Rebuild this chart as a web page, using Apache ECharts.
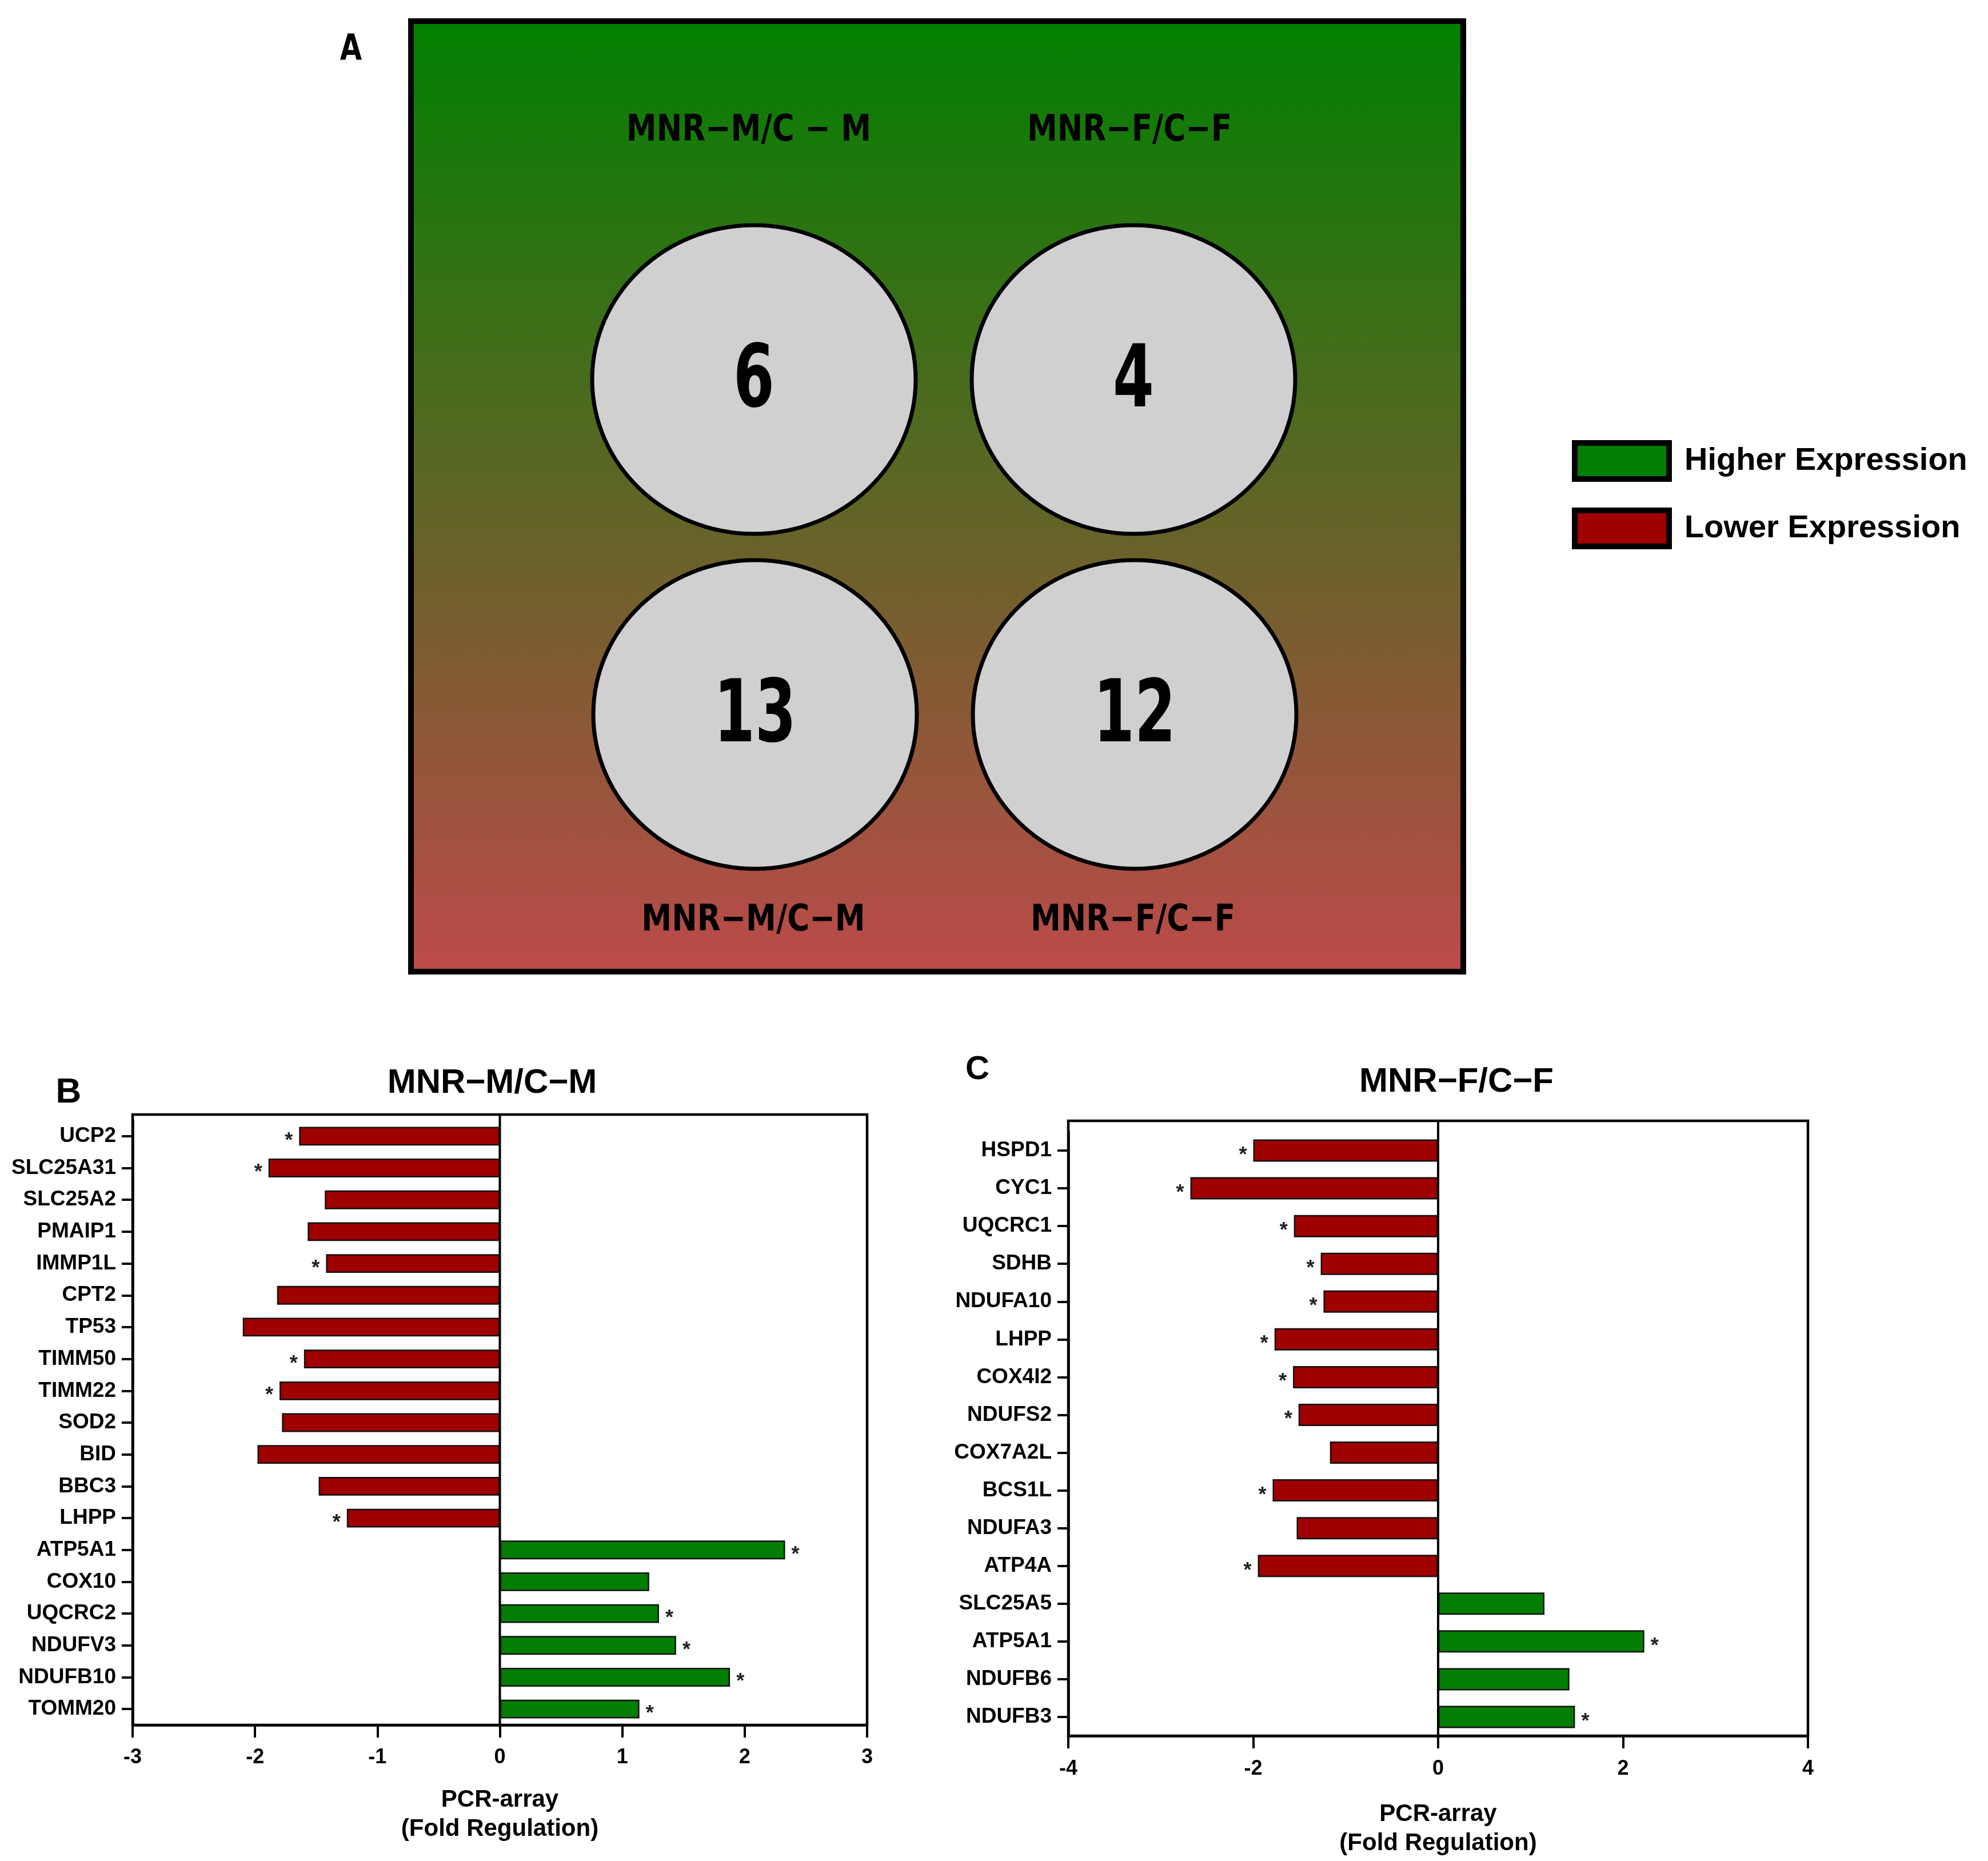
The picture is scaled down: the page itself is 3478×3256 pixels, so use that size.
<!DOCTYPE html>
<html>
<head>
<meta charset="utf-8">
<script src="https://cdn.jsdelivr.net/npm/echarts@6/dist/echarts.min.js"></script>
<style>
  html, body { margin: 0; padding: 0; background: #fff; }
  #chart { width: 3478px; height: 3256px; }
</style>
</head>
<body>
<div id="chart"></div>
<script>
// panel B: MNR-M / C-M
const genesM = ['UCP2', 'SLC25A31', 'SLC25A2', 'PMAIP1', 'IMMP1L', 'CPT2', 'TP53', 'TIMM50', 'TIMM22', 'SOD2',
  'BID', 'BBC3', 'LHPP', 'ATP5A1', 'COX10', 'UQCRC2', 'NDUFV3', 'NDUFB10', 'TOMM20'];
const foldM = [-1.64, -1.89, -1.43, -1.57, -1.42, -1.82, -2.10, -1.60, -1.80, -1.78,
  -1.98, -1.48, -1.25, 2.33, 1.22, 1.30, 1.44, 1.88, 1.14];
const sigM = [1, 1, 0, 0, 1, 0, 0, 1, 1, 0, 0, 0, 1, 1, 0, 1, 1, 1, 1];

// panel C: MNR-F / C-F
const genesF = ['HSPD1', 'CYC1', 'UQCRC1', 'SDHB', 'NDUFA10', 'LHPP', 'COX4I2', 'NDUFS2', 'COX7A2L', 'BCS1L',
  'NDUFA3', 'ATP4A', 'SLC25A5', 'ATP5A1', 'NDUFB6', 'NDUFB3'];
const foldF = [-2.00, -2.68, -1.56, -1.27, -1.24, -1.77, -1.57, -1.51, -1.17, -1.79,
  -1.53, -1.95, 1.15, 2.23, 1.42, 1.48];
const sigF = [1, 1, 1, 1, 1, 1, 1, 1, 0, 1, 0, 1, 0, 1, 0, 1];

const ticksM = [-3, 3, 1];   // min, max, interval
const ticksF = [-4, 4, 2];

const GREEN = '#037d03';
const RED = '#9f0000';
const wide = "'DejaVu Sans', sans-serif";   // squeezed with scaleX for the condensed look of panel A
const sans = "'Liberation Sans', Arial, sans-serif";

// plot frames (the box is a bit taller than the bar area at the top)
const frameB = { x: 232, y: 1950, w: 1285, h: 1068 };
const frameC = { x: 1869, y: 1961, w: 1294, h: 1076 };

const chart = echarts.init(document.getElementById('chart'), null, { renderer: 'canvas' });

// counts shown in the circles of panel A
const upM = foldM.filter(v => v > 0).length;
const downM = foldM.filter(v => v < 0).length;
const upF = foldF.filter(v => v > 0).length;
const downF = foldF.filter(v => v < 0).length;

function barSeries(idx, fold, sig) {
  const star = p => (sig[p.dataIndex] ? '*' : '');
  const base = {
    type: 'bar',
    xAxisIndex: idx,
    yAxisIndex: idx,
    stack: 'p' + idx,
    barWidth: '59%',
    animation: false,
    label: {
      show: true,
      formatter: star,
      fontSize: 36,
      fontWeight: 'bold',
      fontFamily: sans,
      color: '#222',
      distance: 11,
      offset: [0, 9]
    }
  };
  return [
    Object.assign({}, base, {
      name: 'Higher Expression',
      data: fold.map(v => (v > 0 ? v : '-')),
      itemStyle: { color: GREEN, borderColor: '#111', borderWidth: 2.5 },
      label: Object.assign({}, base.label, { position: 'right' })
    }),
    Object.assign({}, base, {
      name: 'Lower Expression',
      data: fold.map(v => (v < 0 ? v : '-')),
      itemStyle: { color: RED, borderColor: '#111', borderWidth: 2.5 },
      label: Object.assign({}, base.label, { position: 'left' })
    })
  ];
}

function xAxisFor(idx, ticks, margin, nameGap) {
  return {
    type: 'value',
    gridIndex: idx,
    min: ticks[0],
    max: ticks[1],
    interval: ticks[2],
    axisLine: { show: true, onZero: false, lineStyle: { color: '#000', width: 4.5 } },
    axisTick: { show: true, length: 22, lineStyle: { color: '#000', width: 4 } },
    axisLabel: { fontSize: 36, fontWeight: 'bold', fontFamily: sans, color: '#000', margin: margin },
    splitLine: { show: false },
    name: 'PCR-array\n(Fold Regulation)',
    nameLocation: 'middle',
    nameGap: nameGap,
    nameTextStyle: { fontSize: 42, fontWeight: 'bold', fontFamily: sans, color: '#000', lineHeight: 51 }
  };
}

function yAxisFor(idx, genes) {
  return {
    type: 'category',
    gridIndex: idx,
    data: genes,
    inverse: true,
    axisLine: { show: true, onZero: false, lineStyle: { color: '#000', width: 4.5 } },
    axisTick: { show: true, alignWithLabel: true, length: 19, lineStyle: { color: '#000', width: 4 } },
    axisLabel: { fontSize: 37, fontWeight: 'bold', fontFamily: sans, color: '#000', margin: 29, interval: 0 },
    splitLine: { show: false }
  };
}

function txt(text, x, y, size, family, squeeze) {
  return {
    type: 'text',
    x: x,
    y: y,
    scaleX: squeeze || 1,
    silent: true,
    style: {
      text: text,
      fontSize: size,
      fontWeight: 'bold',
      fontFamily: family,
      fill: '#000',
      align: 'center',
      verticalAlign: 'middle'
    }
  };
}

function bubble(cx, cy, count) {
  return [
    {
      type: 'ellipse',
      shape: { cx: cx, cy: cy, rx: 283, ry: 270 },
      style: { fill: '#d1d0d1', stroke: '#000', lineWidth: 7 },
      silent: true
    },
    txt(String(count), cx, cy + 8, 152, wide, 0.68)
  ];
}

function frame(f) {
  return {
    type: 'rect',
    silent: true,
    z: 10,
    shape: { x: f.x, y: f.y, width: f.w, height: f.h },
    style: { fill: 'none', stroke: '#000', lineWidth: 4.5 }
  };
}

const option = {
  backgroundColor: '#ffffff',
  animation: false,
  grid: [
    { left: 232, top: 1960, width: 1285, height: 1058, show: false, outerBoundsMode: 'none', containLabel: false },
    { left: 1869, top: 1980, width: 1294, height: 1057, show: false, outerBoundsMode: 'none', containLabel: false }
  ],
  xAxis: [xAxisFor(0, ticksM, 39, 106), xAxisFor(1, ticksF, 40, 112)],
  yAxis: [yAxisFor(0, genesM), yAxisFor(1, genesF)],
  legend: {
    orient: 'vertical',
    left: 2750,
    top: 770,
    padding: 0,
    itemWidth: 165,
    itemHeight: 63,
    itemGap: 45,
    icon: 'rect',
    selectedMode: false,
    data: ['Higher Expression', 'Lower Expression'],
    itemStyle: { borderColor: '#000', borderWidth: 10 },
    textStyle: { fontSize: 56, fontWeight: 'bold', fontFamily: sans, color: '#000', lineHeight: 63,
      padding: [0, 0, 0, 22] }
  },
  series: [].concat(barSeries(0, foldM, sigM), barSeries(1, foldF, sigF)),
  graphic: [
    {
      type: 'rect',
      silent: true,
      z: -1,
      shape: { x: 719, y: 37, width: 1841, height: 1663 },
      style: {
        fill: new echarts.graphic.LinearGradient(0, 0, 0, 1, [
          { offset: 0, color: '#008000' },
          { offset: 1, color: '#bd4a4a' }
        ]),
        stroke: '#000',
        lineWidth: 10
      }
    },
    txt('A', 614, 88, 62, wide, 0.8),
    txt('MNR\u2212M/C \u2212 M', 1310, 229, 64, wide, 0.83),
    txt('MNR\u2212F/C\u2212F', 1976, 229, 64, wide, 0.83),
    txt('MNR\u2212M/C\u2212M', 1318, 1611, 64, wide, 0.83),
    txt('MNR\u2212F/C\u2212F', 1982, 1611, 64, wide, 0.83)
  ]
    .concat(bubble(1319, 664, upM), bubble(1983, 664, upF), bubble(1321, 1250, downM), bubble(1985, 1250, downF))
    .concat([
      frame(frameB),
      frame(frameC),
      txt('B', 120, 1912, 62, sans),
      txt('MNR\u2212M/C\u2212M', 861, 1895, 60, sans),
      txt('C', 1710, 1872, 58, sans),
      txt('MNR\u2212F/C\u2212F', 2548, 1893, 60, sans)
    ])
};

chart.setOption(option);

// zero reference line of each bar panel, placed through the x scale, running the full frame height
[[0, frameB], [1, frameC]].forEach(function (pair) {
  const x0 = chart.convertToPixel({ xAxisIndex: pair[0] }, 0);
  option.graphic.push({
    type: 'line',
    silent: true,
    z: 9,
    shape: { x1: x0, y1: pair[1].y, x2: x0, y2: pair[1].y + pair[1].h },
    style: { stroke: '#000', lineWidth: 4 }
  });
});
chart.setOption(option, true);
</script>
</body>
</html>
